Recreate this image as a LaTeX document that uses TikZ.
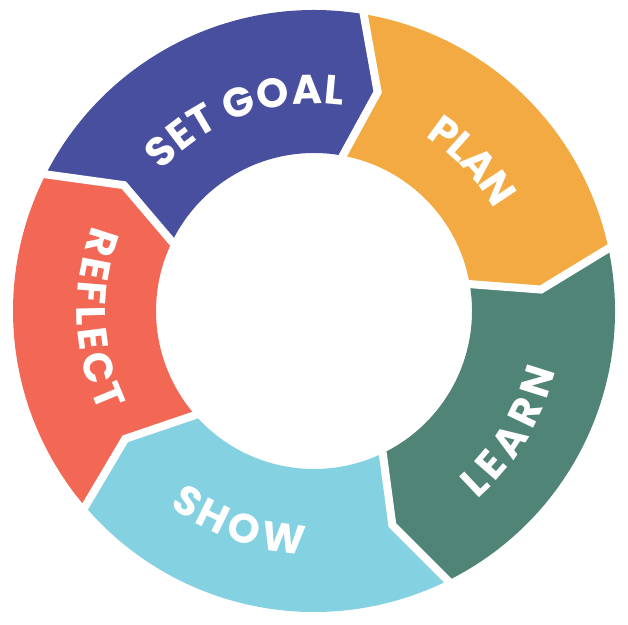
\documentclass[tikz,border=0pt]{standalone}
\usepackage{fontspec}
\setmainfont{Poppins}
\usetikzlibrary{decorations.text}
\definecolor{cgoal}{HTML}{484F9F}
\definecolor{cplan}{HTML}{F4AA42}
\definecolor{clearn}{HTML}{508477}
\definecolor{cshow}{HTML}{84D1E1}
\definecolor{crefl}{HTML}{F26854}
\newcommand\RO{301pt}
\newcommand\RI{158pt}
\newcommand\RT{228pt}
% #1 colour, #2 outer start, #3 tip start, #4 inner start, #5 outer end, #6 tip end, #7 inner end
\newcommand\ringseg[7]{%
  \fill[#1] (#2:\RO) arc[start angle=#2, end angle=#5, radius=\RO]
    -- (#6:\RT) -- (#7:\RI) arc[start angle=#7, end angle=#4, radius=\RI]
    -- (#3:\RT) -- cycle;}
\newcommand\ringgap[3]{\draw[gapline] (#1:312pt) -- (#1:\RO) -- (#2:\RT) -- (#3:\RI) -- (#3:148pt);}
\tikzset{
  gapline/.style={draw=white, line width=8pt, line join=miter},
  lbl/.style={decorate, decoration={text effects along path, text={#1},
     text effects/.cd, text along path, fit text to path,
     characters={text=white, font=\fontsize{41}{41}\selectfont\bfseries}}},
}
\begin{document}
\begin{tikzpicture}[x=1pt,y=1pt]
\useasboundingbox (0,0) rectangle (628,624);
\begin{scope}[shift={(314pt,313pt)}]
\ringseg{cgoal}{153}{146.5}{154}{80.5}{73.8}{79.5}
\ringseg{cplan}{80.5}{73.8}{79.5}{12}{5.4}{9.8}
\ringseg{clearn}{12}{5.4}{9.8}{-63.6}{-69.9}{-64.2}
\ringseg{cshow}{-63.6}{-69.9}{-64.2}{-139.5}{-145.9}{-138.8}
\ringseg{crefl}{220.5}{214.1}{221.2}{153}{146.5}{154}
\ringgap{153}{146.5}{154}
\ringgap{80.5}{73.8}{79.5}
\ringgap{12}{5.4}{9.8}
\ringgap{-63.6}{-69.9}{-64.2}
\ringgap{-139.5}{-145.9}{-138.8}
\path[lbl={SET GOAL}] (137.5:207pt) arc[start angle=137.5, end angle=82, radius=207pt];
\path[lbl={PLAN}] (57.5:207pt) arc[start angle=57.5, end angle=29.5, radius=207pt];
\path[lbl={LEARN}] (-49:249pt) arc[start angle=-49, end angle=-14, radius=249pt];
\path[lbl={SHOW}] (-126.5:243pt) arc[start angle=-126.5, end angle=-92.5, radius=243pt];
\path[lbl={REFLECT}] (159:237pt) arc[start angle=159, end angle=205.5, radius=237pt];
\end{scope}
\end{tikzpicture}
\end{document}
